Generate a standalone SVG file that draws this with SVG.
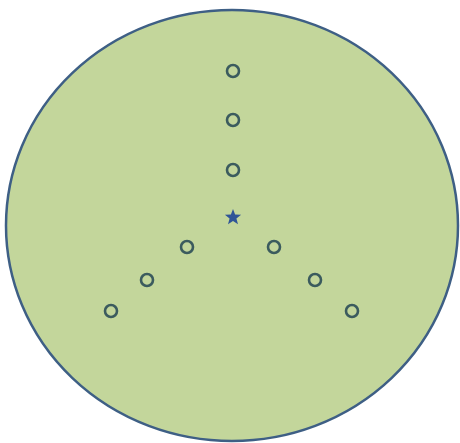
<svg xmlns="http://www.w3.org/2000/svg" width="460" height="443" viewBox="0 0 460 443">
<style>
.dot{fill:none;stroke:#3b5b5e;stroke-width:2.6}
</style>
<rect width="460" height="443" fill="#ffffff"/>
<g id="disc"><ellipse cx="232" cy="225.5" rx="226" ry="215.5" fill="#c3d69b" stroke="#3e5f85" stroke-width="2.5"/></g>
<g id="star"><polygon fill="#2f5597" points="233,209 235.1,214.6 241.1,214.8 236.4,218.5 238,224.3 233,221 228,224.3 229.6,218.5 224.9,214.8 230.9,214.6"/></g>
<g id="dots">
<circle class="dot" cx="233" cy="71" r="6"/>
<circle class="dot" cx="233" cy="120" r="6"/>
<circle class="dot" cx="233" cy="170" r="6"/>
<circle class="dot" cx="187" cy="247" r="6"/>
<circle class="dot" cx="147" cy="280" r="6"/>
<circle class="dot" cx="111" cy="311" r="6"/>
<circle class="dot" cx="274" cy="247" r="6"/>
<circle class="dot" cx="315" cy="280" r="6"/>
<circle class="dot" cx="352" cy="311" r="6"/>
</g>
</svg>
